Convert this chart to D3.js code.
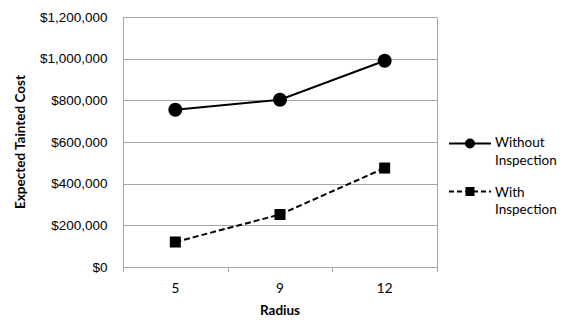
<!DOCTYPE html>
<html>
<head>
<meta charset="utf-8">
<script src="https://cdn.jsdelivr.net/npm/d3@7"></script>
<style>
  html, body { margin: 0; padding: 0; background: #fff; }
  svg { display: block; font-family: Lato, "Open Sans", sans-serif; }
</style>
</head>
<body>
<svg id="chart" width="571" height="320"></svg>
<script>
// Radius categories and expected tainted cost per scenario
const radii = ["5", "9", "12"];
const withoutInspection = [755000, 803000, 990000];
const withInspection = [120000, 252000, 475000];
const yTicks = [0, 200000, 400000, 600000, 800000, 1000000, 1200000];
const seriesNames = ["Without Inspection", "With Inspection"];

const svg = d3.select("#chart");
const margin = { left: 123, right: 134, top: 17, bottom: 53 };
const W = 571, H = 320;
const plotW = W - margin.left - margin.right;
const plotH = H - margin.top - margin.bottom;

const x = d3.scaleBand().domain(radii).range([margin.left, margin.left + plotW]);
const y = d3.scaleLinear().domain([0, 1200000]).range([margin.top + plotH, margin.top]);

const gridColor = "#a6a6a6";
const labelSize = 13.5;
const fmt = v => "$" + d3.format(",")(v);

// gridlines
svg.append("g").selectAll("line").data(yTicks.slice(1)).join("line")
  .attr("x1", margin.left).attr("x2", margin.left + plotW)
  .attr("y1", d => Math.round(y(d)) + 0.5).attr("y2", d => Math.round(y(d)) + 0.5)
  .attr("stroke", gridColor).attr("stroke-width", 1);

// plot frame (right edge)
svg.append("line")
  .attr("x1", margin.left + plotW + 0.5).attr("x2", margin.left + plotW + 0.5)
  .attr("y1", Math.round(y(1200000)) + 0.5).attr("y2", Math.round(y(0)) + 0.5)
  .attr("stroke", gridColor);

// y axis
const yAxis = svg.append("g")
  .attr("transform", `translate(${margin.left + 0.5},0)`)
  .call(d3.axisLeft(y).tickValues(yTicks).tickFormat(fmt).tickSize(0).tickPadding(16));
yAxis.select(".domain").attr("stroke", gridColor).attr("d", `M0,${Math.round(y(1200000)) + 0.5}V${Math.round(y(0)) + 4}`);
yAxis.selectAll("text").attr("font-size", labelSize).attr("fill", "#000");

// x axis with boundary ticks between categories
const xAxisG = svg.append("g")
  .attr("transform", `translate(0,${Math.round(y(0)) + 0.5})`);
xAxisG.append("line")
  .attr("x1", margin.left).attr("x2", margin.left + plotW + 1)
  .attr("stroke", gridColor);
const bounds = radii.map(r => x(r)).concat([margin.left + plotW]);
xAxisG.selectAll("line.tick").data(bounds).join("line").attr("class", "tick")
  .attr("x1", d => Math.round(d) + 0.5).attr("x2", d => Math.round(d) + 0.5)
  .attr("y1", 0).attr("y2", 4.5).attr("stroke", gridColor);
xAxisG.selectAll("text").data(radii).join("text")
  .attr("x", d => x(d) + x.bandwidth() / 2).attr("y", 25)
  .attr("text-anchor", "middle").attr("font-size", labelSize).text(d => d);

// axis titles
svg.append("text").attr("x", x("9") + x.bandwidth() / 2).attr("y", 315)
  .attr("text-anchor", "middle").attr("font-weight", "bold").attr("font-size", 13.5)
  .text("Radius");
svg.append("text")
  .attr("transform", `translate(25,${margin.top + plotH / 2}) rotate(-90)`)
  .attr("text-anchor", "middle").attr("font-weight", "bold").attr("font-size", 13.5)
  .text("Expected Tainted Cost");

const cx = d => x(d) + x.bandwidth() / 2;
const line = d3.line().x(d => cx(d[0])).y(d => y(d[1]));

// Without Inspection: solid line with circles
const s1 = radii.map((r, i) => [r, withoutInspection[i]]);
svg.append("path").attr("d", line(s1)).attr("fill", "none")
  .attr("stroke", "#000").attr("stroke-width", 2);
svg.append("g").selectAll("circle").data(s1).join("circle")
  .attr("cx", d => cx(d[0])).attr("cy", d => y(d[1])).attr("r", 7).attr("fill", "#000");

// With Inspection: dashed line with squares
const s2 = radii.map((r, i) => [r, withInspection[i]]);
svg.append("path").attr("d", line(s2)).attr("fill", "none")
  .attr("stroke", "#000").attr("stroke-width", 2).attr("stroke-dasharray", "6,3");
svg.append("g").selectAll("rect").data(s2).join("rect")
  .attr("x", d => cx(d[0]) - 5.5).attr("y", d => y(d[1]) - 5.5)
  .attr("width", 11).attr("height", 11).attr("fill", "#000");

// legend
const lg = svg.append("g");
const lx0 = 449, lx1 = 491, lmx = 470, tx = 495;
const rows = [
  { y: 143.5, dash: null, marker: "circle", lines: ["Without", "Inspection"], t: 147 },
  { y: 191.5, dash: "5,3", marker: "rect", lines: ["With", "Inspection"], t: 196.5 }
];
rows.forEach((r, i) => {
  lg.append("line").attr("x1", lx0).attr("x2", lx1).attr("y1", r.y).attr("y2", r.y)
    .attr("stroke", "#000").attr("stroke-width", 2)
    .attr("stroke-dasharray", r.dash);
  if (r.marker === "circle") {
    lg.append("circle").attr("cx", lmx).attr("cy", r.y).attr("r", 5).attr("fill", "#000");
  } else {
    lg.append("rect").attr("x", lmx - 4.5).attr("y", r.y - 4.5).attr("width", 9).attr("height", 9).attr("fill", "#000");
  }
  const t = lg.append("text").attr("x", tx).attr("y", r.t).attr("font-size", labelSize)
    .attr("aria-label", seriesNames[i]);
  r.lines.forEach((s, k) => t.append("tspan").attr("x", tx).attr("dy", k ? 17.5 : 0).text(s));
});
</script>
</body>
</html>
